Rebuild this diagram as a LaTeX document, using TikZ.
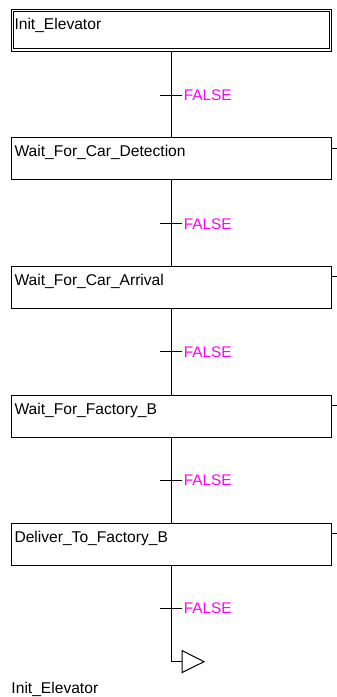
\documentclass[tikz,border=0pt]{standalone}
\usepackage{fontspec}
\setmainfont{Liberation Sans}
\begin{document}
\begin{tikzpicture}[x=1pt,y=-1pt,line width=1pt,
  stepbox/.style={draw=black,rectangle,minimum width=320.5pt,minimum height=42pt,inner sep=0pt,anchor=north west},
  steptext/.style={anchor=base west,inner sep=0pt,font=\fontsize{15.6}{18}\selectfont},
  cond/.style={anchor=base west,inner sep=0pt,text=condmag,font=\fontsize{15.4}{18}\selectfont},
  link/.style={draw=black,line width=1pt}]
\definecolor{condmag}{RGB}{255,0,255}
\useasboundingbox (0,0) rectangle (337,697);
% initial step (double frame)
\node[stepbox] (s1) at (10.5,8.7) {};
\node[draw=black,rectangle,minimum width=316.3pt,minimum height=37.3pt,inner sep=0pt,anchor=north west] (s1i) at (12.7,11) {};
\node[steptext] (s1t) at (14,29) {Init\_Elevator};
% other steps
\node[stepbox] (s2) at (10.5,137.3) {};
\node[steptext] (s2t) at (14,156.8) {Wait\_For\_Car\_Detection};
\node[stepbox] (s3) at (10.5,265.9) {};
\node[steptext] (s3t) at (14,285.4) {Wait\_For\_Car\_Arrival};
\node[stepbox] (s4) at (10.5,394.5) {};
\node[steptext] (s4t) at (14,414) {Wait\_For\_Factory\_B};
\node[stepbox] (s5) at (10.5,523.1) {};
\node[steptext] (s5t) at (14,542.6) {Deliver\_To\_Factory\_B};
% right stubs
\foreach \s/\y in {s2/148,s3/276.6,s4/405.2,s5/533.8}{
  \coordinate (\s r) at (337,\y);
  \draw[link] (\s.east |- \s r) -- (\s r);
}
% vertical links
\draw[link] (s1.south -| 171.3,0) -- (s2.north -| 171.3,0);
\draw[link] (s2.south -| 171.3,0) -- (s3.north -| 171.3,0);
\draw[link] (s3.south -| 171.3,0) -- (s4.north -| 171.3,0);
\draw[link] (s4.south -| 171.3,0) -- (s5.north -| 171.3,0);
% transitions
\foreach \i/\y in {1/95,2/223.4,3/351.8,4/480.2,5/608.2}{
  \coordinate (t\i) at (171.3,\y);
  \draw[link] ([xshift=-11.3pt]t\i) -- ([xshift=10.4pt]t\i);
  \node[cond] (c\i) at ([xshift=12pt,yshift=-5.6pt]t\i) {FALSE};
}
% jump
\coordinate (jc) at (171.3,661.7);
\coordinate (jmp) at (182,661.7);
\draw[link,line join=miter] (jmp) -- (182,650.5) -- (204,661.7) -- (182,672.6) -- cycle;
\draw[link] (s5.south -| 171.3,0) -- (jc) -- (jmp);
\node[steptext] (jt) at (11,693) {Init\_Elevator};
\end{tikzpicture}
\end{document}
